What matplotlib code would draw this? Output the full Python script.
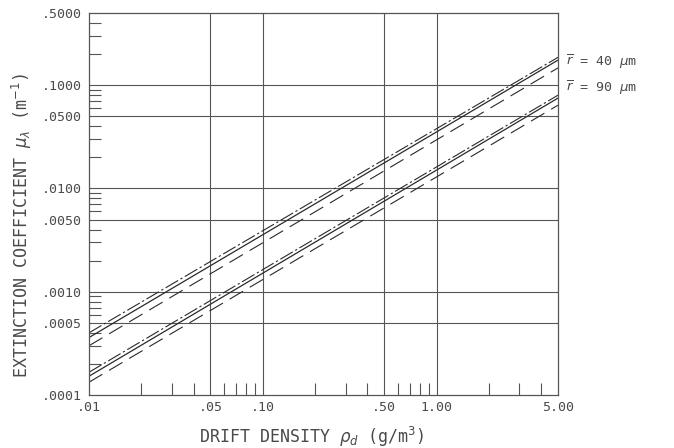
import matplotlib
matplotlib.use('Agg')
import matplotlib.pyplot as plt
from matplotlib.ticker import FixedLocator, NullFormatter

# drift density endpoints (g/m3)
x_pts = [0.01, 5.0]

# r = 40 um group
r40_solid = [0.00036, 0.175]
r40_dashdot = [0.00040, 0.186]
r40_dashed = [0.00030, 0.147]

# r = 90 um group
r90_solid = [0.000152, 0.075]
r90_dashdot = [0.000166, 0.080]
r90_dashed = [0.000133, 0.064]

x_major = [0.01, 0.05, 0.10, 0.50, 1.00, 5.00]
x_labels = ['.01', '.05', '.10', '.50', '1.00', '5.00']
y_major = [0.0001, 0.0005, 0.001, 0.005, 0.01, 0.05, 0.1, 0.5]
y_labels = ['.0001', '.0005', '.0010', '.0050', '.0100', '.0500', '.1000', '.5000']

TXT = '#4a4a4a'
LINE = '#2a2a2a'
GRID = '#555555'
MONO = 'DejaVu Sans Mono'
plt.rcParams['font.family'] = MONO
plt.rcParams['mathtext.fontset'] = 'dejavusans'

fig = plt.figure(figsize=(6.74, 4.48), dpi=100)
ax = fig.add_axes([89 / 674, 1 - 395 / 448, (558 - 89) / 674, (395 - 13) / 448])
ax.set_xscale('log')
ax.set_yscale('log')
ax.set_xlim(0.01, 5.0)
ax.set_ylim(0.0001, 0.5)

dashdot = (0, (13, 2.5, 2, 2.5))
dashed = (0, (14, 7))
for solid, dd, da in [(r40_solid, r40_dashdot, r40_dashed),
                      (r90_solid, r90_dashdot, r90_dashed)]:
    ax.plot(x_pts, solid, color=LINE, lw=0.9, solid_capstyle='butt')
    ax.plot(x_pts, dd, color=LINE, lw=0.8, linestyle=dashdot)
    ax.plot(x_pts, da, color=LINE, lw=0.8, linestyle=dashed)

# grid lines at interior labelled values
for xv in x_major[1:-1]:
    ax.axvline(xv, color=GRID, lw=0.8, zorder=0)
for yv in y_major[1:-1]:
    ax.axhline(yv, color=GRID, lw=0.8, zorder=0)

# ticks
x_minor = [0.02, 0.03, 0.04, 0.06, 0.07, 0.08, 0.09,
           0.2, 0.3, 0.4, 0.6, 0.7, 0.8, 0.9, 2, 3, 4]
y_minor = []
for dec in [0.0001, 0.001, 0.01, 0.1]:
    for k in range(2, 10):
        if k != 5 and dec * k < 0.5:
            y_minor.append(dec * k)
ax.xaxis.set_major_locator(FixedLocator(x_major))
ax.xaxis.set_minor_locator(FixedLocator(x_minor))
ax.yaxis.set_major_locator(FixedLocator(y_major))
ax.yaxis.set_minor_locator(FixedLocator(y_minor))
ax.set_xticklabels(x_labels)
ax.set_yticklabels(y_labels)
ax.xaxis.set_minor_formatter(NullFormatter())
ax.yaxis.set_minor_formatter(NullFormatter())
ax.tick_params(which='major', length=0, labelsize=9.5, labelcolor=TXT, pad=5)
ax.tick_params(which='minor', direction='in', length=8.5, width=0.8, color=GRID)
ax.tick_params(axis='x', which='major', pad=4)

for s in ax.spines.values():
    s.set_color(GRID)
    s.set_linewidth(0.9)

fig.text(312 / 674, 1 - 437 / 448, r'DRIFT DENSITY $\rho_d$ (g/m$^3$)',
         fontsize=12, color=TXT, ha='center', va='center')
fig.text(22 / 674, 1 - 226 / 448, r'EXTINCTION COEFFICIENT $\mu_\lambda$ (m$^{-1}$)',
         fontsize=12, color=TXT, ha='center', va='center', rotation=90)

fig.text(566 / 674, 1 - 62 / 448, r'$\overline{r}$ = 40 $\mu$m', fontsize=9.5, color=TXT, va='center')
fig.text(566 / 674, 1 - 88 / 448, r'$\overline{r}$ = 90 $\mu$m', fontsize=9.5, color=TXT, va='center')

fig.savefig('out.png', dpi=100, facecolor='white')
